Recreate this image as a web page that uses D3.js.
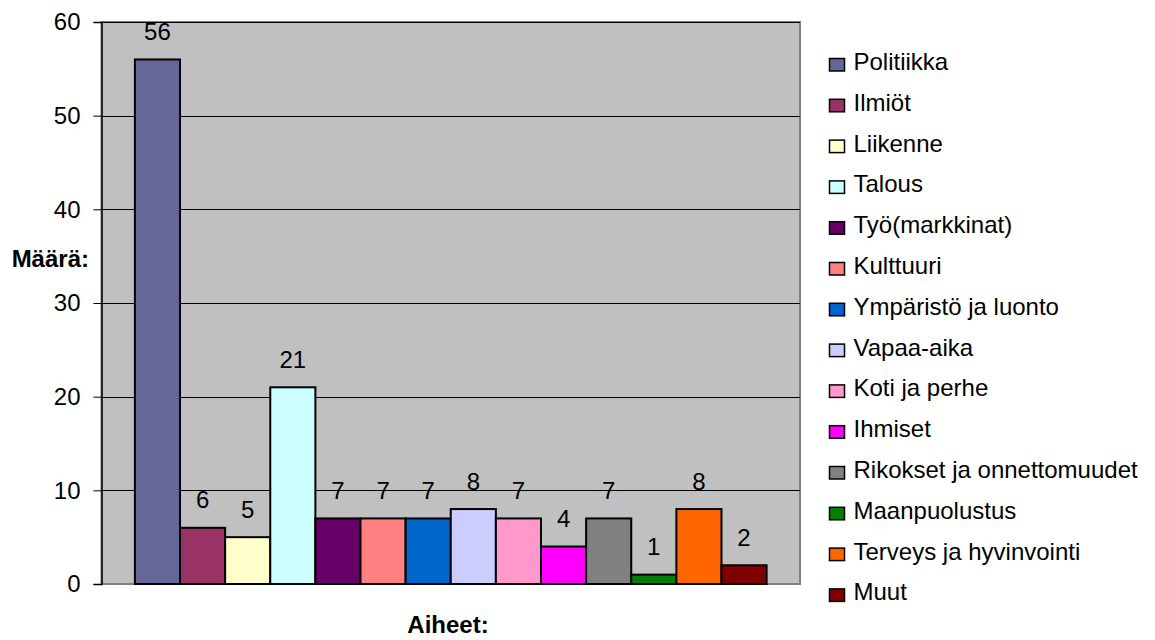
<!DOCTYPE html>
<html>
<head>
<meta charset="utf-8">
<script src="https://cdn.jsdelivr.net/npm/d3@7"></script>
<style>
  body { margin: 0; background: #fff; }
  text { font-family: "Liberation Sans", Arial, sans-serif; font-size: 24px; fill: #000; }
</style>
</head>
<body>
<svg id="chart" width="1155" height="640"></svg>
<script>
var topics = ["Politiikka", "Ilmiöt", "Liikenne", "Talous", "Työ(markkinat)", "Kulttuuri",
              "Ympäristö ja luonto", "Vapaa-aika", "Koti ja perhe", "Ihmiset",
              "Rikokset ja onnettomuudet", "Maanpuolustus", "Terveys ja hyvinvointi", "Muut"];
var counts = [56, 6, 5, 21, 7, 7, 7, 8, 7, 4, 7, 1, 8, 2];
var colors = ["#666699", "#993366", "#FFFFCC", "#CCFFFF", "#660066", "#FF8080",
              "#0066CC", "#CCCCFF", "#FF99CC", "#FF00FF", "#808080", "#008000",
              "#FF6600", "#800000"];
var yTicks = [0, 10, 20, 30, 40, 50, 60];

var margin = {top: 22, left: 101.5},
    width = 698.5,
    height = 562;

var svg = d3.select("#chart");
var g = svg.append("g").attr("transform", "translate(" + margin.left + "," + margin.top + ")");

var x = d3.scaleBand().domain(topics).range([0, width]).paddingInner(0).paddingOuter(0.74);
var y = d3.scaleLinear().domain([0, 60]).range([height, 0]);
var color = d3.scaleOrdinal().domain(topics).range(colors);

// plot area
g.append("rect")
  .attr("width", width).attr("height", height)
  .attr("fill", "#C0C0C0").attr("stroke", "#808080").attr("stroke-width", 2);

// gridlines
g.selectAll(".grid").data(yTicks.filter(function(d) { return d > 0; }))
  .enter().append("line")
  .attr("x1", 0).attr("x2", width)
  .attr("y1", function(d) { return Math.round(y(d)) + 0.5; })
  .attr("y2", function(d) { return Math.round(y(d)) + 0.5; })
  .attr("stroke", "#000").attr("stroke-width", 1);

// bars
g.selectAll(".bar").data(counts)
  .enter().append("rect")
  .attr("x", function(d, i) { return x(topics[i]); })
  .attr("y", function(d) { return y(d); })
  .attr("width", x.bandwidth())
  .attr("height", function(d) { return height - y(d); })
  .attr("fill", function(d, i) { return color(topics[i]); })
  .attr("stroke", "#000").attr("stroke-width", 2);

// value labels
g.selectAll(".val").data(counts)
  .enter().append("text")
  .attr("x", function(d, i) { return x(topics[i]) + x.bandwidth() / 2; })
  .attr("y", function(d) { return y(d) - 19.5; })
  .attr("text-anchor", "middle")
  .text(function(d) { return d; });

// y axis
var yAxis = g.append("g")
  .call(d3.axisLeft(y).tickValues(yTicks).tickSize(8).tickPadding(13));
yAxis.select(".domain").attr("stroke", "#000").attr("stroke-width", 1.5);
yAxis.selectAll("line").attr("stroke", "#000");
yAxis.selectAll("text").attr("font-size", null).attr("font-family", null).attr("fill", "#000");

// axis titles
svg.append("text")
  .attr("x", 89).attr("y", 267)
  .attr("text-anchor", "end").attr("font-weight", "bold")
  .text("Määrä:");
svg.append("text")
  .attr("x", 448).attr("y", 633)
  .attr("text-anchor", "middle").attr("font-weight", "bold")
  .text("Aiheet:");

// legend
var legend = svg.append("g").attr("transform", "translate(829.5,70)");
var item = legend.selectAll(".item").data(topics)
  .enter().append("g")
  .attr("transform", function(d, i) { return "translate(0," + (i * 40.8) + ")"; });
item.append("rect")
  .attr("x", 0).attr("y", -11.5).attr("width", 15).attr("height", 12.5)
  .attr("fill", function(d) { return color(d); })
  .attr("stroke", "#000").attr("stroke-width", 1.5);
item.append("text")
  .attr("x", 24).attr("y", 0)
  .text(function(d) { return d; });
</script>
</body>
</html>
